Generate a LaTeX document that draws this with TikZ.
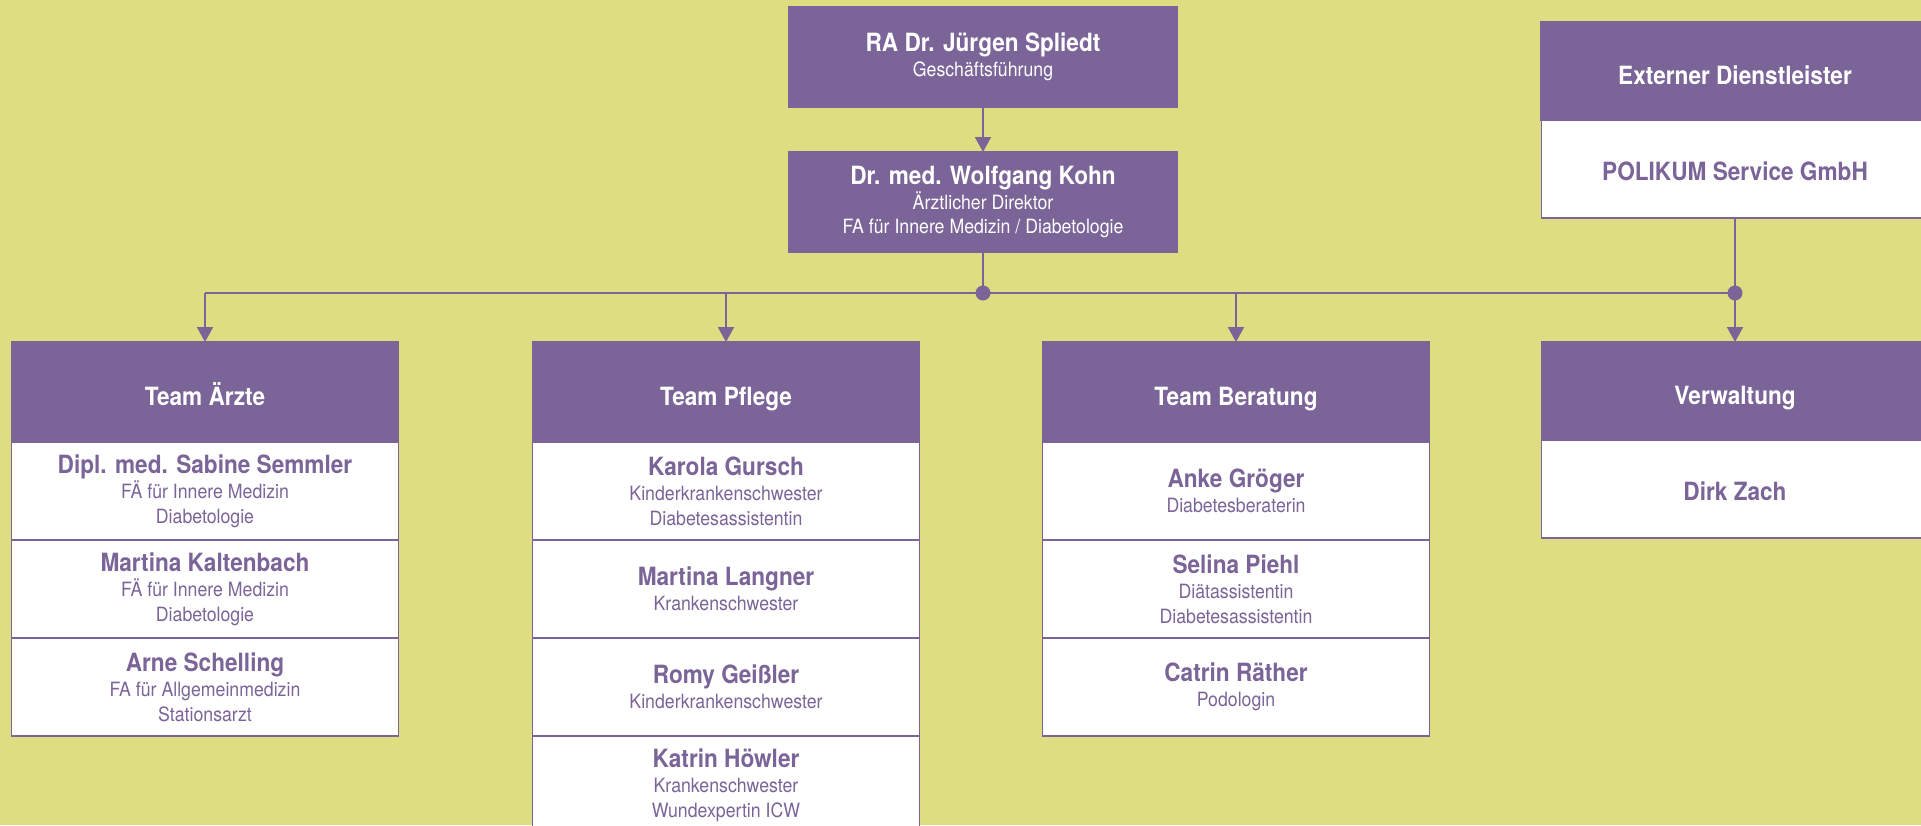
\documentclass[tikz,border=0pt]{standalone}
\usepackage{fontspec}
\setmainfont{TeX Gyre Heros}[FakeStretch=0.9]
\usepackage{xcolor}
\usepackage{tikz}
\usetikzlibrary{arrows.meta,positioning,calc}

\definecolor{lila}{RGB}{123,100,152}
\definecolor{gelb}{RGB}{222,221,130}

\newcommand{\pname}[1]{{\fontsize{14.3}{15}\selectfont\bfseries #1}}

\begin{document}
\begin{tikzpicture}[
    node distance=0.9cm,
    lead/.style={rectangle, draw=lila, fill=lila, text=white, line width=1.1pt, minimum width=7.76cm, minimum height=2cm, align=center, outer sep=0pt, inner sep=0pt, font=\fontsize{11.2}{14.2}\selectfont},
    head/.style={lead, minimum width=7.74cm, minimum height=2cm, text height=15.5pt, text depth=0pt},
    member/.style={rectangle, draw=lila, fill=white, text=lila, line width=1.1pt, minimum width=7.74cm, minimum height=1.96cm, align=center, outer sep=0pt, inner sep=0pt, font=\fontsize{11.2}{14.2}\selectfont},
    single/.style={member, text height=13pt, text depth=0pt},
    arrow/.style={-{Triangle[width=0.32cm,length=0.3cm]}, line width=1.1pt, draw=lila},
    dot/.style={circle, fill=lila, inner sep=0pt, minimum size=0.3cm}
]
    \fill[gelb] (0,0) rectangle (38.42,-16.5);
    \useasboundingbox (0,0) rectangle (38.42,-16.5);

    % Leitung
    \node[lead] (spliedt) at (19.66,-1.14) {\pname{RA Dr. Jürgen Spliedt}\\ Geschäftsführung};
    \node[lead, below=of spliedt] (kohn) {\pname{Dr. med. Wolfgang Kohn}\\ Ärztlicher Direktor\\ FA für Innere Medizin / Diabetologie};

    % Extern
    \node[head, minimum width=7.76cm, minimum height=1.96cm] (dienst) at (34.7,-1.42) {\pname{Externer Dienstleister}};
    \node[single, below=0pt of dienst] (polikum) {\pname{POLIKUM Service GmbH}};

    % Teams
    \node[head] (aerzte) at (4.1,-7.84) {\pname{Team Ärzte}};
    \node[member, below=0pt of aerzte] (semmler) {\pname{Dipl. med. Sabine Semmler}\\ FÄ für Innere Medizin\\ Diabetologie};
    \node[member, below=0pt of semmler] (kaltenbach) {\pname{Martina Kaltenbach}\\ FÄ für Innere Medizin\\ Diabetologie};
    \node[member, below=0pt of kaltenbach] (schelling) {\pname{Arne Schelling}\\ FA für Allgemeinmedizin\\ Stationsarzt};

    \node[head] (pflege) at (14.52,-7.84) {\pname{Team Pflege}};
    \node[member, below=0pt of pflege] (gursch) {\pname{Karola Gursch}\\ Kinderkrankenschwester\\ Diabetesassistentin};
    \node[member, below=0pt of gursch] (langner) {\pname{Martina Langner}\\ Krankenschwester};
    \node[member, below=0pt of langner] (geissler) {\pname{Romy Geißler}\\ Kinderkrankenschwester};
    \node[member, below=0pt of geissler] (hoewler) {\pname{Katrin Höwler}\\ Krankenschwester\\ Wundexpertin ICW};

    \node[head] (beratung) at (24.72,-7.84) {\pname{Team Beratung}};
    \node[member, below=0pt of beratung] (groeger) {\pname{Anke Gröger}\\ Diabetesberaterin};
    \node[member, below=0pt of groeger] (piehl) {\pname{Selina Piehl}\\ Diätassistentin\\ Diabetesassistentin};
    \node[member, below=0pt of piehl] (raether) {\pname{Catrin Räther}\\ Podologin};

    \node[head, minimum height=1.96cm] (verwaltung) at (34.7,-7.82) {\pname{Verwaltung}};
    \node[single, below=0pt of verwaltung] (zach) {\pname{Dirk Zach}};

    % Verbindungen
    \coordinate (hub) at ($(kohn.south)+(0,-0.82)$);
    \draw[arrow] (spliedt) -- (kohn);
    \draw[lila, line width=1.1pt] (kohn) -- (hub);
    \draw[lila, line width=1.1pt] (aerzte.north |- hub) -- (verwaltung.north |- hub);
    \draw[arrow] (aerzte.north |- hub) -- (aerzte.north);
    \draw[arrow] (pflege.north |- hub) -- (pflege.north);
    \draw[arrow] (beratung.north |- hub) -- (beratung.north);
    \draw[arrow] (polikum) -- (verwaltung);
    \node[dot] (hubdot) at (hub) {};
    \node[dot] (extdot) at (verwaltung.north |- hub) {};
\end{tikzpicture}
\end{document}
